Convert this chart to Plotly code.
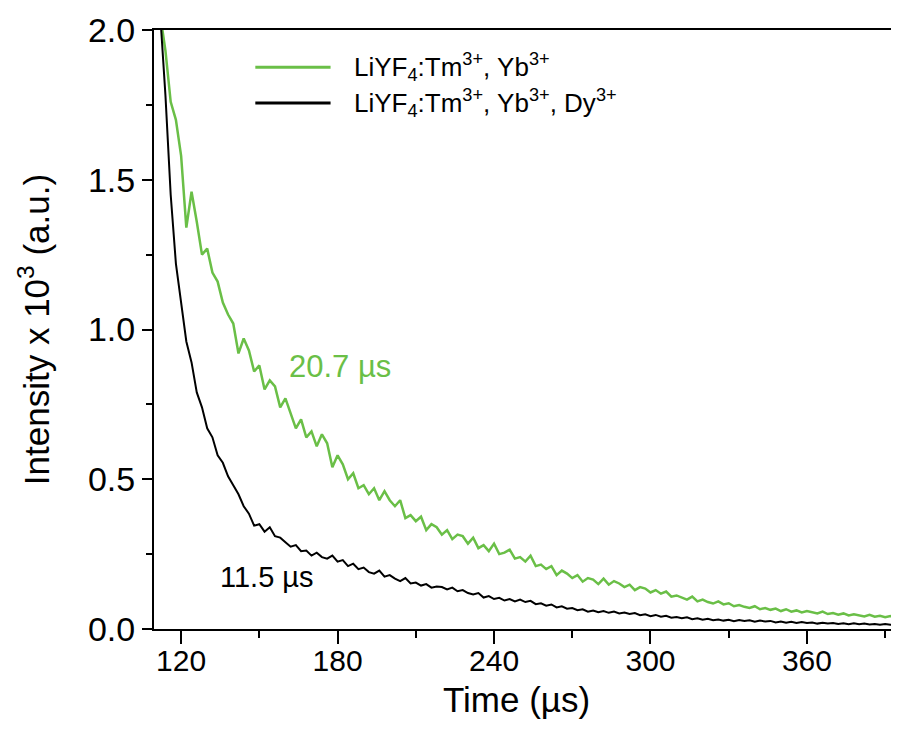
import plotly.graph_objects as go

# --- data (time in µs, intensity x 10^3) ---
time_us = [
    110, 112, 114, 116, 118, 120, 122, 124, 126, 128,
    130, 132, 134, 136, 138, 140, 142, 144, 146, 148,
    150, 152, 154, 156, 158, 160, 162, 164, 166, 168,
    170, 172, 174, 176, 178, 180, 182, 184, 186, 188,
    190, 192, 194, 196, 198, 200, 202, 204, 206, 208,
    210, 212, 214, 216, 218, 220, 222, 224, 226, 228,
    230, 232, 234, 236, 238, 240, 242, 244, 246, 248,
    250, 252, 254, 256, 258, 260, 262, 264, 266, 268,
    270, 272, 274, 276, 278, 280, 282, 284, 286, 288,
    290, 292, 294, 296, 298, 300, 302, 304, 306, 308,
    310, 312, 314, 316, 318, 320, 322, 324, 326, 328,
    330, 332, 334, 336, 338, 340, 342, 344, 346, 348,
    350, 352, 354, 356, 358, 360, 362, 364, 366, 368,
    370, 372, 374, 376, 378, 380, 382, 384, 386, 388,
    390, 392, 394, 396,
]

# LiYF4:Tm3+, Yb3+ (green)
tm_yb = [
    2.25, 2.05, 1.93, 1.76, 1.70, 1.58, 1.34, 1.46, 1.36, 1.25,
    1.27, 1.19, 1.16, 1.09, 1.05, 1.02, 0.92, 0.97, 0.93, 0.86,
    0.88, 0.80, 0.83, 0.81, 0.74, 0.77, 0.72, 0.67, 0.70, 0.64,
    0.66, 0.61, 0.65, 0.62, 0.54, 0.58, 0.55, 0.50, 0.52, 0.47,
    0.48, 0.45, 0.47, 0.43, 0.46, 0.43, 0.41, 0.43, 0.37, 0.38,
    0.36, 0.375, 0.33, 0.35, 0.34, 0.315, 0.33, 0.30, 0.315, 0.31,
    0.285, 0.305, 0.27, 0.28, 0.26, 0.285, 0.25, 0.255, 0.265, 0.235,
    0.24, 0.225, 0.245, 0.21, 0.215, 0.20, 0.21, 0.18, 0.195, 0.185,
    0.17, 0.18, 0.158, 0.17, 0.165, 0.15, 0.168, 0.148, 0.16, 0.152,
    0.14, 0.148, 0.13, 0.14, 0.135, 0.122, 0.13, 0.118, 0.125, 0.108,
    0.112, 0.106, 0.098, 0.108, 0.092, 0.098, 0.09, 0.085, 0.092, 0.082,
    0.086, 0.076, 0.08, 0.074, 0.07, 0.076, 0.066, 0.07, 0.064, 0.068,
    0.06, 0.066, 0.058, 0.062, 0.055, 0.06, 0.057, 0.052, 0.058, 0.05,
    0.053, 0.048, 0.052, 0.045, 0.049, 0.046, 0.042, 0.047, 0.041, 0.044,
    0.039, 0.043, 0.038, 0.041,
]

# LiYF4:Tm3+, Yb3+, Dy3+ (black)
tm_yb_dy = [
    2.60, 2.05, 1.78, 1.45, 1.22, 1.08, 0.96, 0.89, 0.79, 0.74,
    0.67, 0.64, 0.58, 0.555, 0.51, 0.48, 0.45, 0.41, 0.385, 0.345,
    0.35, 0.325, 0.34, 0.31, 0.305, 0.29, 0.275, 0.28, 0.26, 0.262,
    0.245, 0.255, 0.24, 0.235, 0.245, 0.225, 0.23, 0.21, 0.218, 0.20,
    0.205, 0.19, 0.185, 0.195, 0.175, 0.18, 0.168, 0.16, 0.17, 0.152,
    0.155, 0.145, 0.15, 0.138, 0.142, 0.14, 0.132, 0.138, 0.126, 0.13,
    0.12, 0.115, 0.12, 0.105, 0.11, 0.10, 0.104, 0.095, 0.10, 0.092,
    0.098, 0.09, 0.094, 0.083, 0.086, 0.078, 0.082, 0.072, 0.076, 0.068,
    0.07, 0.063, 0.066, 0.058, 0.062, 0.056, 0.06, 0.054, 0.058, 0.052,
    0.055, 0.05, 0.053, 0.046, 0.049, 0.043, 0.047, 0.041, 0.044, 0.038,
    0.04, 0.036, 0.039, 0.033, 0.036, 0.031, 0.034, 0.029, 0.032, 0.028,
    0.031, 0.026, 0.03, 0.027, 0.029, 0.024, 0.028, 0.025, 0.027, 0.022,
    0.025, 0.021, 0.024, 0.02, 0.023, 0.02, 0.022, 0.018, 0.021, 0.018,
    0.02, 0.017, 0.019, 0.016, 0.019, 0.016, 0.018, 0.015, 0.017, 0.014,
    0.017, 0.014, 0.016, 0.013,
]

x_ticks = [120, 180, 240, 300, 360]
y_ticks = [0.0, 0.5, 1.0, 1.5, 2.0]

serie_names = [
    "LiYF<sub>4</sub>:Tm<sup>3+</sup>, Yb<sup>3+</sup>",
    "LiYF<sub>4</sub>:Tm<sup>3+</sup>, Yb<sup>3+</sup>, Dy<sup>3+</sup>",
]
lifetimes = ["20.7 µs", "11.5 µs"]

GREEN = "#6abf47"
BLACK = "#000000"
SANS = "Liberation Sans, Arial, sans-serif"

fig = go.Figure()

fig.add_trace(go.Scatter(x=time_us, y=tm_yb, mode="lines", name=serie_names[0],
                         line=dict(color=GREEN, width=2.5), showlegend=False))
fig.add_trace(go.Scatter(x=time_us, y=tm_yb_dy, mode="lines", name=serie_names[1],
                         line=dict(color=BLACK, width=2), showlegend=False))

# legend drawn by hand, the original has long line samples
legend_rows = [(0.938, GREEN, serie_names[0]), (0.878, BLACK, serie_names[1])]
for y_leg, col, txt in legend_rows:
    fig.add_shape(type="line", xref="paper", yref="paper",
                  x0=0.136, x1=0.237, y0=y_leg, y1=y_leg,
                  line=dict(color=col, width=3))
    fig.add_annotation(xref="paper", yref="paper", x=0.266, y=y_leg, text=txt,
                       showarrow=False, xanchor="left", yanchor="middle",
                       font=dict(family=SANS, size=26, color=BLACK))

# lifetime labels
fig.add_annotation(x=180.9, y=0.875, text=lifetimes[0], showarrow=False,
                   font=dict(family=SANS, size=31, color=GREEN))
fig.add_annotation(x=152.9, y=0.174, text=lifetimes[1], showarrow=False,
                   font=dict(family=SANS, size=29, color=BLACK))

# x axis title as annotation so it sits close to the tick labels
fig.add_annotation(xref="paper", yref="paper", x=0.486, y=0, yshift=-70,
                   text="Time (µs)", showarrow=False,
                   xanchor="center", yanchor="middle",
                   font=dict(family=SANS, size=35, color=BLACK))

# page body adds 8px, so the figure is 8px smaller than the window
fig.update_layout(
    width=891, height=730,
    margin=dict(l=146, r=0, t=22, b=109, autoexpand=False),
    plot_bgcolor="white", paper_bgcolor="white",
    xaxis=dict(
        range=[109.6, 395.3], tickvals=x_ticks, automargin=False,
        showline=True, linecolor=BLACK, linewidth=2, mirror=True,
        showgrid=False, zeroline=False,
        ticks="outside", ticklen=13, tickwidth=2, tickcolor=BLACK,
        ticklabelstandoff=-9,
        minor=dict(dtick=30, tick0=120, ticks="outside", ticklen=7,
                   tickwidth=2, tickcolor=BLACK, showgrid=False),
        tickfont=dict(family=SANS, size=30, color=BLACK),
    ),
    yaxis=dict(
        range=[0, 2.0], tickvals=y_ticks, tickformat=".1f", automargin=False,
        showline=True, linecolor=BLACK, linewidth=2,
        showgrid=False, zeroline=False,
        ticks="outside", ticklen=10, tickwidth=2, tickcolor=BLACK,
        minor=dict(dtick=0.25, tick0=0, ticks="outside", ticklen=6,
                   tickwidth=2, tickcolor=BLACK, showgrid=False),
        tickfont=dict(family=SANS, size=34, color=BLACK),
        title=dict(text="Intensity x 10<sup>3</sup> (a.u.)", standoff=28,
                   font=dict(family=SANS, size=35, color=BLACK)),
    ),
)

fig.write_html("out.html")
